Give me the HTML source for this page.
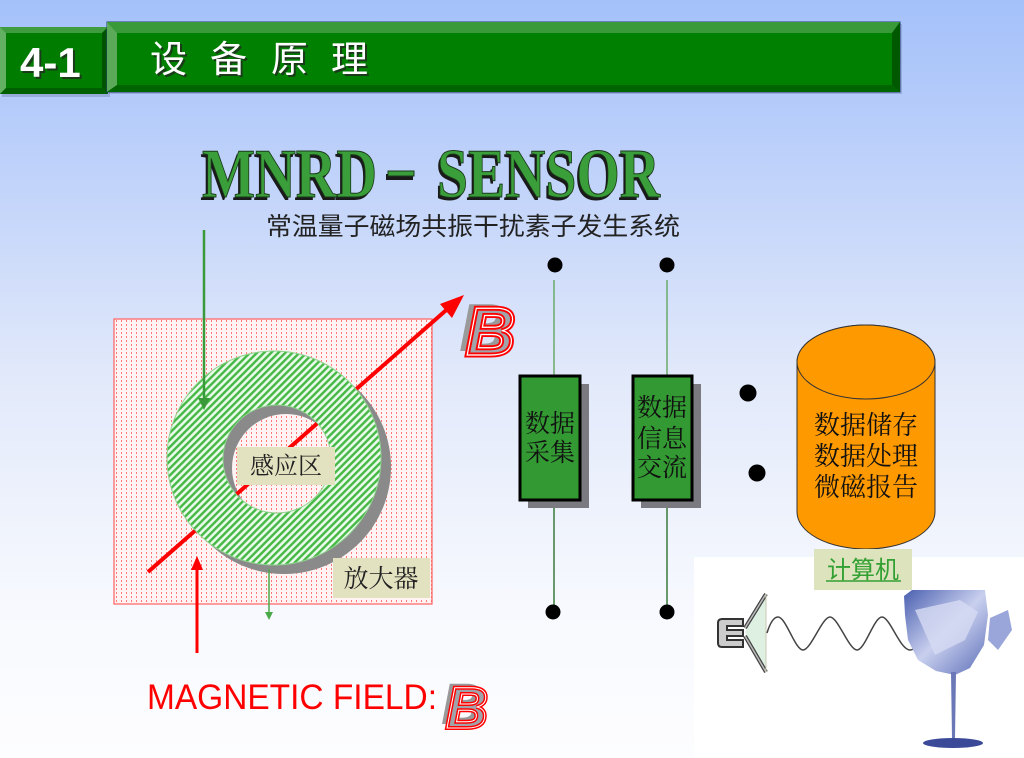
<!DOCTYPE html>
<html><head><meta charset="utf-8"><style>
html,body{margin:0;padding:0;width:1024px;height:758px;overflow:hidden;}
svg{display:block;}
</style></head><body>
<svg width="1024" height="758" viewBox="0 0 1024 758" xmlns="http://www.w3.org/2000/svg">
<defs>
<linearGradient id="bg" x1="0" y1="0" x2="0" y2="1">
<stop offset="0" stop-color="#a4c1fa"/>
<stop offset="0.2" stop-color="#bcd0fa"/>
<stop offset="0.5" stop-color="#e2e9fa"/>
<stop offset="0.8" stop-color="#f7f9fe"/>
<stop offset="1" stop-color="#fdfdff"/>
</linearGradient>
<pattern id="dots" width="5" height="4" patternUnits="userSpaceOnUse">
<rect width="5" height="4" fill="#fff3f4"/>
<rect x="1" y="0" width="1" height="2" fill="#f77"/>
</pattern>
<pattern id="hatch" width="5" height="5" patternUnits="userSpaceOnUse" patternTransform="rotate(-45)">
<rect width="5" height="5" fill="#eafaea"/>
<rect width="5" height="2.4" fill="#45b845"/>
</pattern>
<linearGradient id="glass" x1="0" y1="0" x2="1" y2="1">
<stop offset="0" stop-color="#4a5fb0"/>
<stop offset="0.5" stop-color="#c9d0ee"/>
<stop offset="1" stop-color="#5a6cb8"/>
</linearGradient>
</defs>
<rect width="1024" height="758" fill="url(#bg)"/>

<!-- Title tab -->
<rect x="2" y="29" width="108" height="68" fill="#7a8fb8" opacity="0.5"/>
<rect x="0" y="27" width="108" height="67" fill="#007c00"/>
<polygon points="0,27 108,27 102,33 6,33" fill="#3f9c3f"/>
<polygon points="0,27 6,33 6,88 0,94" fill="#62b062"/>
<polygon points="108,27 108,94 102,88 102,33" fill="#005400"/>
<polygon points="0,94 108,94 102,88 6,88" fill="#005f00"/>
<text x="22" y="79" font-family="Liberation Sans, sans-serif" font-weight="bold" font-size="42" fill="#1a3a1a">4-1</text>
<text x="20" y="77" font-family="Liberation Sans, sans-serif" font-weight="bold" font-size="42" fill="#fff">4-1</text>

<!-- Title bar -->
<rect x="109" y="24" width="793" height="70" fill="#7a8fb8" opacity="0.5"/>
<rect x="107" y="22" width="793" height="70" fill="#008000" stroke="#2a3f7a" stroke-width="1"/>
<polygon points="107,22 900,22 892,33 117,33" fill="#3a9a3a"/>
<polygon points="107,22 117,33 117,85 107,92" fill="#5aaa5a"/>
<polygon points="900,22 900,92 892,85 892,33" fill="#005800"/>
<polygon points="107,92 900,92 892,85 117,85" fill="#006400"/>
<g font-family="Liberation Sans, Noto Sans CJK SC, sans-serif" font-size="37" fill="#1a3a1a">
<text x="152" y="74">设</text><text x="212" y="74">备</text><text x="273" y="74">原</text><text x="333" y="74">理</text>
</g>
<g font-family="Liberation Sans, Noto Sans CJK SC, sans-serif" font-size="37" fill="#fff">
<text x="150" y="72">设</text><text x="210" y="72">备</text><text x="271" y="72">原</text><text x="331" y="72">理</text>
</g>

<!-- MNRD - SENSOR -->
<g font-family="Liberation Serif, serif" font-weight="bold" font-size="70" fill="#1a1a1a">
<text x="200" y="200" textLength="175" lengthAdjust="spacingAndGlyphs">MNRD</text>
<text x="435" y="200" textLength="223" lengthAdjust="spacingAndGlyphs">SENSOR</text>
</g>
<rect x="386" y="174" width="27" height="6" fill="#1a1a1a"/>
<g font-family="Liberation Serif, serif" font-weight="bold" font-size="70" fill="#3a9e3a" stroke="#1a3a1a" stroke-width="1">
<text x="202" y="197" textLength="175" lengthAdjust="spacingAndGlyphs">MNRD</text>
<text x="437" y="197" textLength="223" lengthAdjust="spacingAndGlyphs">SENSOR</text>
</g>
<rect x="388" y="171" width="26" height="5" fill="#3a9e3a" stroke="#1a3a1a" stroke-width="1"/>

<text x="266" y="235" font-family="Liberation Sans, Noto Sans CJK SC, sans-serif" font-size="25" textLength="414" lengthAdjust="spacingAndGlyphs" fill="#222">常温量子磁场共振干扰素子发生系统</text>

<!-- pink dotted rect -->
<rect x="114" y="319" width="318" height="285" fill="url(#dots)" stroke="#ff6060" stroke-width="1.2"/>

<!-- ring shadow -->
<path d="M391,467 a107,107 0 1,0 -214,0 a107,107 0 1,0 214,0 Z M340,468 a54,54 0 1,0 -108,0 a54,54 0 1,0 108,0 Z" fill="#8a8a8a" fill-rule="evenodd"/>

<!-- red line -->
<line x1="148" y1="572" x2="452" y2="305" stroke="#ff0000" stroke-width="4"/>
<polygon points="464,295 440,304 452,318" fill="#ff0000"/>

<!-- ring -->
<path d="M381,458 a107,107 0 1,0 -214,0 a107,107 0 1,0 214,0 Z M331,459 a54,54 0 1,0 -108,0 a54,54 0 1,0 108,0 Z" fill="url(#hatch)" fill-rule="evenodd" stroke="#8fd28f" stroke-width="1"/>

<!-- green down arrow -->
<line x1="204" y1="230" x2="204" y2="400" stroke="#3a9a3a" stroke-width="2.5"/>
<polygon points="198,398 210,398 204,410" fill="#3a9a3a"/>

<!-- labels -->
<rect x="237" y="447" width="98" height="38" fill="#e2e2c0"/>
<text x="286" y="474" text-anchor="middle" font-family="Liberation Serif, Noto Serif CJK SC, serif" font-size="24" fill="#222">感应区</text>
<rect x="333" y="558" width="97" height="40" fill="#e2e2c0"/>
<text x="381" y="587" text-anchor="middle" font-family="Liberation Serif, Noto Serif CJK SC, serif" font-size="25" fill="#222">放大器</text>

<!-- red up arrow -->
<line x1="197" y1="653" x2="197" y2="568" stroke="#ff0000" stroke-width="3"/>
<polygon points="191,570 203,570 197,556" fill="#ff0000"/>
<!-- small green arrow -->
<line x1="269" y1="569" x2="269" y2="614" stroke="#4aaa4a" stroke-width="1.5"/>
<polygon points="265,612 273,612 269,620" fill="#4aaa4a"/>

<!-- big B -->
<text x="459" y="351" font-family="Liberation Sans, sans-serif" font-weight="bold" font-style="italic" font-size="68" fill="#9a9a9a">B</text>
<text x="466" y="355" font-family="Liberation Sans, sans-serif" font-weight="bold" font-style="italic" font-size="68" fill="#a0a4aa" stroke="#ff0000" stroke-width="5">B</text>
<text x="466" y="355" font-family="Liberation Sans, sans-serif" font-weight="bold" font-style="italic" font-size="68" fill="none" stroke="#ffffff" stroke-width="1.2">B</text>

<!-- MAGNETIC FIELD -->
<text x="147" y="709" font-family="Liberation Sans, sans-serif" font-size="35" textLength="290" lengthAdjust="spacingAndGlyphs" fill="#ff0000">MAGNETIC FIELD:</text>
<text x="441" y="724" font-family="Liberation Sans, sans-serif" font-weight="bold" font-style="italic" font-size="58" fill="#999">B</text>
<text x="446" y="728" font-family="Liberation Sans, sans-serif" font-weight="bold" font-style="italic" font-size="58" fill="#a0a4aa" stroke="#ff0000" stroke-width="4">B</text>
<text x="446" y="728" font-family="Liberation Sans, sans-serif" font-weight="bold" font-style="italic" font-size="58" fill="none" stroke="#ffffff" stroke-width="1">B</text>

<!-- data columns -->
<line x1="554" y1="280" x2="554" y2="376" stroke="#6aaa6a" stroke-width="1.5"/>
<line x1="554" y1="500" x2="554" y2="606" stroke="#3a7a3a" stroke-width="1.5"/>
<circle cx="555" cy="265" r="7.5" fill="#000"/>
<circle cx="553" cy="612" r="7.5" fill="#000"/>
<rect x="528" y="384" width="61" height="124" fill="#7a7a80"/>
<rect x="520" y="376" width="60" height="124" fill="#339933" stroke="#000" stroke-width="3"/>
<g font-family="Liberation Serif, Noto Serif CJK SC, serif" font-size="25" fill="#111">
<text x="525" y="432">数据</text>
<text x="525" y="461">采集</text>
</g>

<line x1="667" y1="280" x2="667" y2="376" stroke="#6aaa6a" stroke-width="1.5"/>
<line x1="667" y1="500" x2="667" y2="606" stroke="#3a7a3a" stroke-width="1.5"/>
<circle cx="667" cy="265" r="7.5" fill="#000"/>
<circle cx="667" cy="612" r="7.5" fill="#000"/>
<rect x="641" y="384" width="60" height="124" fill="#7a7a80"/>
<rect x="633" y="376" width="59" height="124" fill="#339933" stroke="#000" stroke-width="3"/>
<g font-family="Liberation Serif, Noto Serif CJK SC, serif" font-size="25" fill="#111">
<text x="637" y="416">数据</text>
<text x="637" y="447">信息</text>
<text x="637" y="476">交流</text>
</g>

<circle cx="748" cy="393" r="8.5" fill="#000"/>
<circle cx="757" cy="473" r="8.5" fill="#000"/>

<!-- white picture area -->
<rect x="694" y="557" width="330" height="201" fill="#ffffff"/>

<!-- cylinder -->
<path d="M797,362 L797,512 A69,37 0 0 0 935,512 L935,362 A69,37 0 0 0 797,362 Z" fill="#ff9900" stroke="#333" stroke-width="1"/>
<ellipse cx="866" cy="362" rx="69" ry="37" fill="#ff9900" stroke="#333" stroke-width="1"/>
<g font-family="Liberation Serif, Noto Serif CJK SC, serif" font-size="26" fill="#111" text-anchor="middle">
<text x="866" y="434">数据储存</text>
<text x="866" y="465">数据处理</text>
<text x="866" y="496">微磁报告</text>
</g>

<rect x="814" y="549" width="98" height="41" fill="#dde3bc"/>
<text x="863" y="578" text-anchor="middle" font-family="Liberation Sans, Noto Sans CJK SC, sans-serif" font-size="24" fill="#33a033">计算机</text>
<line x1="826" y1="581" x2="901" y2="581" stroke="#33a033" stroke-width="1.5"/>

<!-- speaker -->
<polygon points="745,632 766,595 766,672" fill="#ddf0e2"/>
<path d="M766,594 L745,628 M766,672 L745,636" stroke="#444" stroke-width="4" fill="none"/>
<path d="M766,594 L745,628 M766,672 L745,636" stroke="#bbb" stroke-width="1.5" fill="none"/>
<path d="M743,619 L722,619 Q718,619 718,623 L718,643 Q718,647 722,647 L743,647 L743,640 L727,640 L727,636 L743,636 L743,630 L727,630 L727,626 L743,626 Z" fill="#ccc" stroke="#333" stroke-width="2"/>
<line x1="766" y1="594" x2="766" y2="672" stroke="#c8c8b0" stroke-width="1"/>
<!-- wave -->
<path d="M767,633 C771,620 775,617 778,617 C786,617 795,650 803,650 C811,650 822,617 830,617 C838,617 849,650 857,650 C865,650 874,617 882,617 C890,617 900,650 910,650 C914,650 918,645 920,640" fill="none" stroke="#444" stroke-width="1.5"/>

<!-- glass -->
<path d="M904,596 L912,590 L985,590 L988,615 L984,645 L970,668 L955,675 L936,671 L918,660 L908,640 L905,615 Z" fill="url(#glass)"/>
<path d="M915,610 L960,600 L978,612 L965,640 L935,655 Z" fill="#d6dbf2" opacity="0.8"/>
<path d="M990,618 L1008,610 L1012,630 L998,650 L988,640 Z" fill="#9aa6da"/>
<path d="M951,672 L956,672 L955,738 L952,738 Z" fill="#6a78b8"/>
<ellipse cx="953" cy="743" rx="30" ry="5" fill="#3a4a98"/>
</svg>
</body></html>
